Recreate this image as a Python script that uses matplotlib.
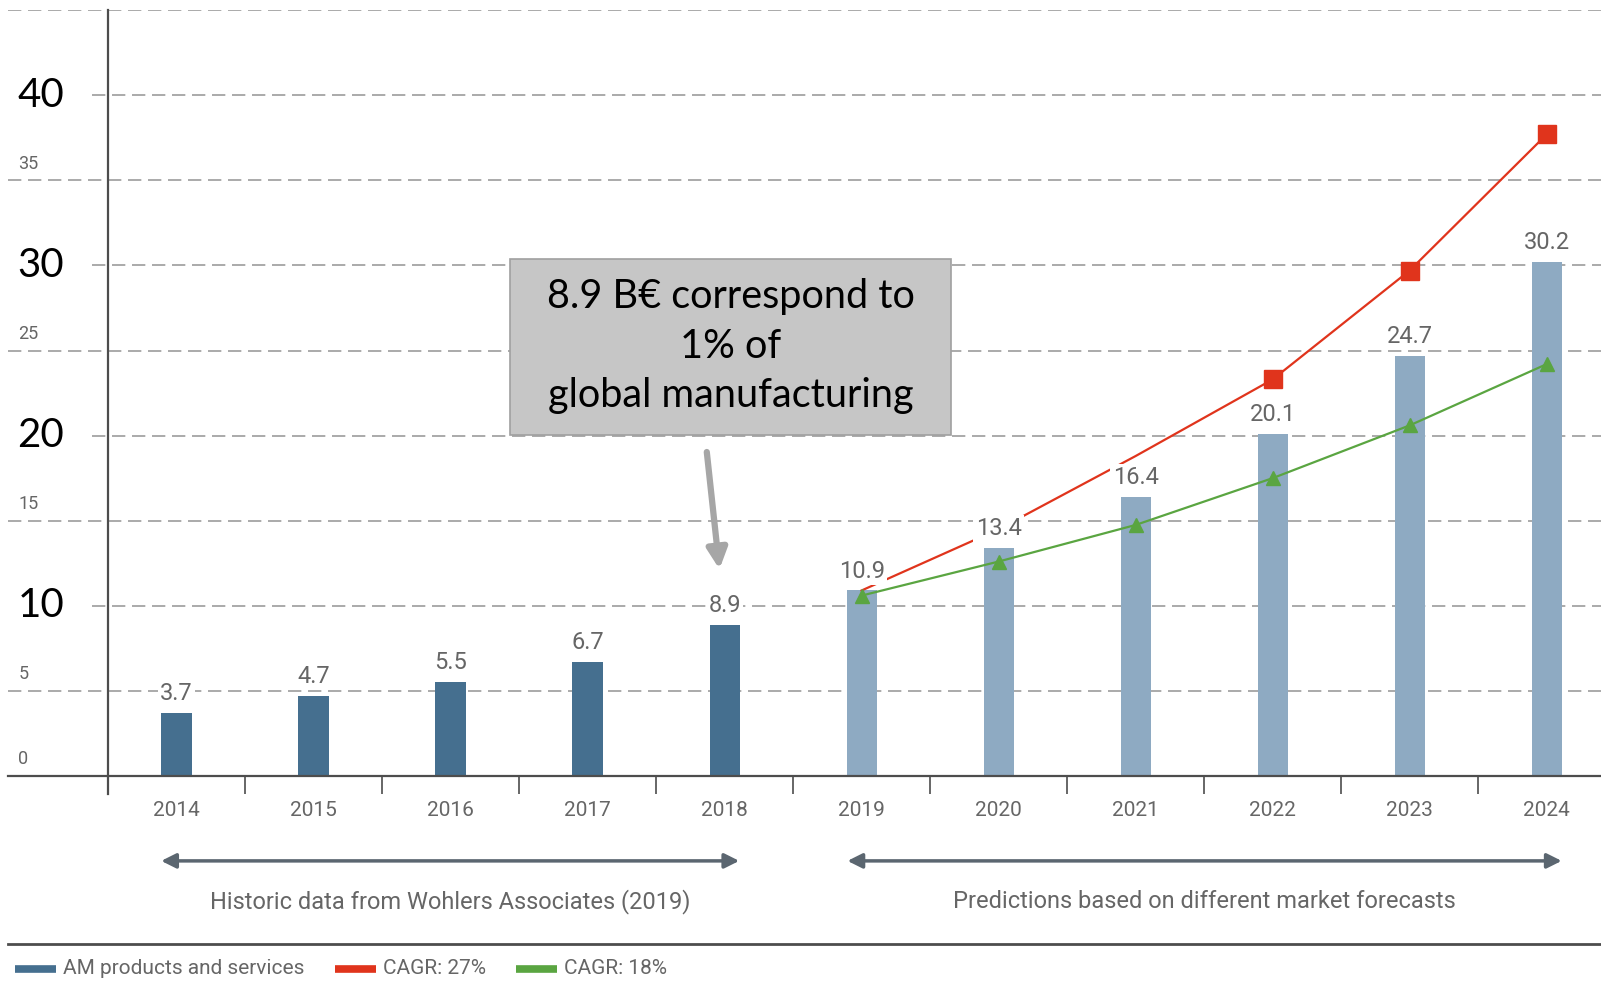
import numpy as np
import matplotlib.pyplot as plt
from matplotlib.patches import Rectangle
from matplotlib.lines import Line2D


years = ["2014", "2015", "2016", "2017", "2018", "2019", "2020", "2021", "2022", "2023", "2024"]
am_values = [3.7, 4.7, 5.5, 6.7, 8.9, 10.9, 13.4, 16.4, 20.1, 24.7, 30.2]
n_historic = 5

forecast_years = ["2019", "2020", "2021", "2022", "2023", "2024"]
cagr27 = [10.9, 14.5, 18.8, 23.3, 29.7, 37.7]
cagr18 = [10.6, 12.6, 14.75, 17.5, 20.6, 24.2]

major_ticks = [10, 20, 30, 40]
minor_ticks = [0, 5, 15, 25, 35]
grid_minor = [5, 15, 25, 35, 45]

legend_labels = ["AM products and services", "CAGR: 27%", "CAGR: 18%"]

dark_blue = "#456f8f"
light_blue = "#8eaac2"
red = "#e0341c"
green = "#5aa541"
grid_col = "#9c9c9c"
text_gray = "#666666"
axis_col = "#4d4d4d"

narrow = "Roboto"

fig = plt.figure(figsize=(16.01, 9.81), dpi=100)
ax = fig.add_axes([0.0051, 0.2090, 0.9949, 0.7806])
ax.set_xlim(-1.229, 10.397)
ax.set_ylim(0, 45)

x = np.arange(len(years))

# gridlines: short ones start at the far left, big ones near the axis
ax.hlines(grid_minor, -1.229, 10.397, colors=grid_col, linestyles=(0, (8, 4)), lw=1.2, zorder=1)
ax.hlines(major_ticks, -0.62, 10.397, colors=grid_col, linestyles=(0, (8, 4)), lw=1.2, zorder=1)

colors = [dark_blue if i < n_historic else light_blue for i in range(len(years))]
ax.bar(x, am_values, width=0.22, color=colors, zorder=2)

fx = np.array([years.index(y) for y in forecast_years])
ax.plot(fx, cagr27, color=red, lw=1.6, marker="s", markersize=13, markevery=[3, 4, 5], zorder=3)
ax.plot(fx, cagr18, color=green, lw=1.6, marker="^", markersize=10, zorder=3)

for xi, v in zip(x, am_values):
    ax.annotate(f"{v}", (xi, v), xytext=(0, 14), textcoords="offset points", ha="center", va="center",
                fontsize=17, color=text_gray, family=narrow, zorder=5,
                bbox=dict(boxstyle="square,pad=0.1", fc="white", ec="none"))

# y labels
for t in major_ticks:
    ax.text(-1.162, t, str(t), fontsize=29, family="Lato", ha="left", va="center", color="black")
for t in minor_ticks:
    ax.text(-1.155, t + 0.45, str(t), fontsize=13, family=narrow, ha="left", va="bottom", color=text_gray)

# axes
for s in ["top", "right", "left"]:
    ax.spines[s].set_visible(False)
ax.spines["bottom"].set_color(axis_col)
ax.spines["bottom"].set_linewidth(1.6)
ax.plot([-0.5, -0.5], [-1.06, 45], color=axis_col, lw=1.6, clip_on=False, zorder=4)
ax.set_yticks([])
ax.set_xticks(x[:-1] + 0.5)
ax.set_xticklabels([])
ax.tick_params(axis="x", which="major", length=13, width=1.2, color=axis_col, direction="out")
ax.set_xticks(x, minor=True)
ax.set_xticklabels(years, minor=True, fontsize=15, color=text_gray, family=narrow)
ax.tick_params(axis="x", which="minor", length=0, pad=18)

# annotation box
ax.add_patch(Rectangle((2.434, 20.02), 3.218, 10.34, facecolor="#c6c6c6", edgecolor="#a0a0a0", lw=1.2, zorder=6))
ax.text(4.043, 25.25, "8.9 B€ correspond to\n1% of\nglobal manufacturing", ha="center", va="center",
        fontsize=28.5, family="Lato", linespacing=1.42, color="black", zorder=7)
ax.annotate("", xy=(3.965, 11.99), xytext=(3.868, 19.2),
            arrowprops=dict(arrowstyle="-|>", color="#a6a6a6", lw=4.5, mutation_scale=30), zorder=6)

# range arrows under the axis
arrow_kw = dict(arrowstyle="<|-|>", color="#5b6670", lw=2.5, mutation_scale=22, shrinkA=0, shrinkB=0)
ax.annotate("", xy=(-0.112, -4.99), xytext=(4.107, -4.99), arrowprops=arrow_kw, annotation_clip=False)
ax.annotate("", xy=(4.897, -4.99), xytext=(10.11, -4.99), arrowprops=arrow_kw, annotation_clip=False)
ax.text(2.0, -7.35, "Historic data from Wohlers Associates (2019)", ha="center", va="center",
        fontsize=17, color=text_gray, family=narrow, clip_on=False)
ax.text(7.505, -7.35, "Predictions based on different market forecasts", ha="center", va="center",
        fontsize=17, color=text_gray, family=narrow, clip_on=False)

# separator and legend
fig.add_artist(Line2D([0.0051, 1.0], [0.0373, 0.0373], color=axis_col, lw=2))
legend_colors = [dark_blue, red, green]
patch_x = [0.0096, 0.2092, 0.3221]
for px, lab, c in zip(patch_x, legend_labels, legend_colors):
    fig.add_artist(Line2D([px, px + 0.0255], [0.0125, 0.0125], color=c, lw=5.5, solid_capstyle="butt"))
    fig.text(px + 0.0299, 0.0125, lab, ha="left", va="center", fontsize=15, color=text_gray, family=narrow)

fig.savefig("out.png", dpi=100)
